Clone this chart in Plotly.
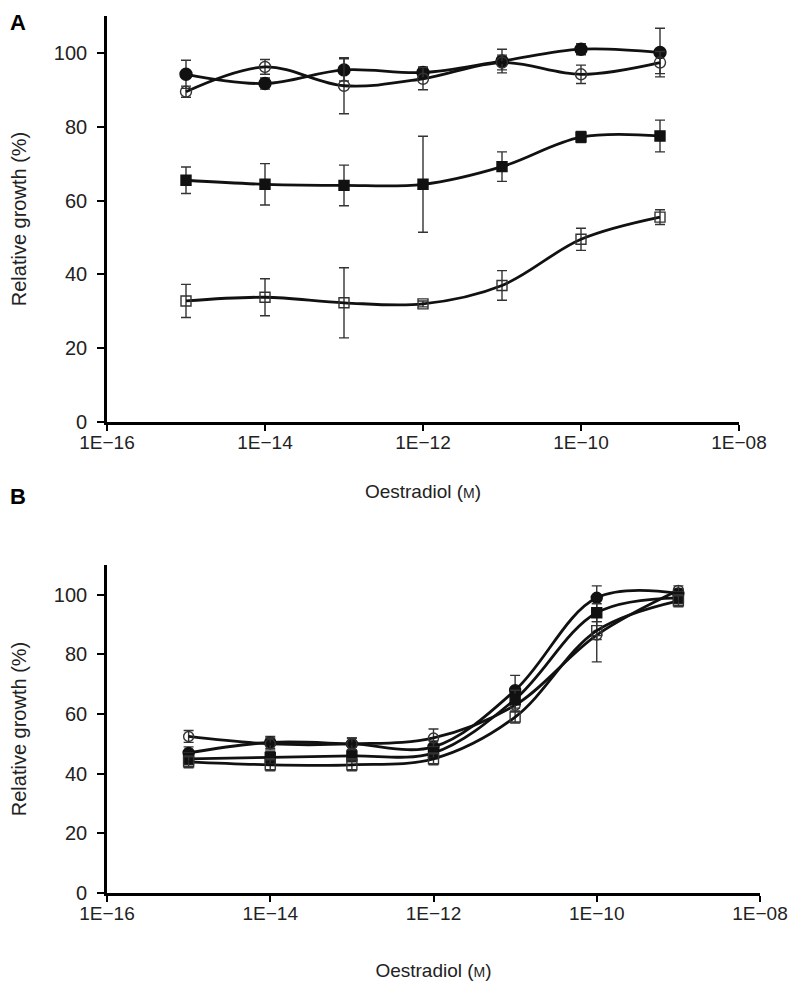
import plotly.graph_objects as go

# ---------------- data ----------------
conc = [1e-15, 1e-14, 1e-13, 1e-12, 1e-11, 1e-10, 1e-9]

# Panel A
a_filled_circle = [94.2, 91.7, 95.4, 94.7, 97.8, 101.0, 100.1]
a_filled_circle_err = [3.8, 1.5, 3.0, 1.5, 3.2, 1.5, 6.6]
a_open_circle = [89.5, 96.2, 91.1, 93.0, 97.4, 94.2, 97.4]
a_open_circle_err = [1.5, 2.0, 7.6, 3.0, 2.0, 2.5, 3.0]
a_filled_square = [65.5, 64.4, 64.1, 64.4, 69.2, 77.2, 77.5]
a_filled_square_err = [3.6, 5.6, 5.5, 13.0, 4.0, 1.5, 4.3]
a_open_square = [32.8, 33.8, 32.3, 32.0, 37.0, 49.5, 55.5]
a_open_square_err = [4.5, 5.0, 9.5, 0.8, 4.0, 3.0, 2.0]

# Panel B
b_filled_circle = [47.0, 50.5, 50.0, 49.0, 68.0, 99.0, 100.5]
b_filled_circle_err = [2.0, 2.0, 2.0, 2.0, 5.0, 4.0, 1.5]
b_open_circle = [52.5, 50.0, 50.0, 52.0, 63.0, 86.5, 101.5]
b_open_circle_err = [2.0, 2.0, 2.0, 3.0, 2.0, 9.0, 1.5]
b_filled_square = [45.0, 45.5, 46.0, 47.0, 65.0, 94.0, 99.0]
b_filled_square_err = [2.0, 2.0, 2.0, 2.0, 3.0, 3.0, 2.0]
b_open_square = [44.0, 43.0, 43.0, 45.0, 59.0, 88.0, 98.0]
b_open_square_err = [2.0, 2.0, 2.0, 2.0, 2.0, 3.0, 2.0]

x_tickvals = [1e-16, 1e-14, 1e-12, 1e-10, 1e-8]
x_ticktext = ["1E\u221216", "1E\u221214", "1E\u221212", "1E\u221210", "1E\u221208"]
y_tickvals = [0, 20, 40, 60, 80, 100]

# ---------------- figure ----------------
fig = go.Figure()

def add_series(y, err, symbol, xa, ya, msize):
    filled = "open" not in symbol
    fig.add_trace(go.Scatter(
        x=conc, y=y, xaxis=xa, yaxis=ya, mode="lines+markers",
        line=dict(color="#111111", width=2.8, shape="spline", smoothing=1.0),
        marker=dict(symbol=symbol, size=msize,
                    color="#111111" if filled else "#333333",
                    line=dict(color="#111111" if filled else "#333333", width=1.4)),
        error_y=dict(type="data", array=err, visible=True, color="#333333",
                     thickness=1.4, width=5),
        showlegend=False, hoverinfo="skip"))

for xa, ya, series in [
    ("x", "y", [(a_filled_circle, a_filled_circle_err, "circle", 12),
                (a_open_circle, a_open_circle_err, "circle-open", 11),
                (a_filled_square, a_filled_square_err, "square", 10),
                (a_open_square, a_open_square_err, "square-open", 10)]),
    ("x2", "y2", [(b_filled_circle, b_filled_circle_err, "circle", 11),
                  (b_open_circle, b_open_circle_err, "circle-open", 10),
                  (b_filled_square, b_filled_square_err, "square", 10),
                  (b_open_square, b_open_square_err, "square-open", 10)]),
]:
    for y, e, s, m in series:
        add_series(y, e, s, xa, ya, m)

font_family = "Liberation Sans, Arial, sans-serif"
xtitle = "Oestradiol (<span style='font-size:14px'>M</span>)"

common_x = dict(type="log", range=[-16, -8], tickvals=x_tickvals, ticktext=x_ticktext,
                showline=True, linecolor="black", linewidth=2.6, ticks="outside",
                ticklen=6, tickwidth=2.4, tickcolor="black", showgrid=False,
                zeroline=False, automargin=False, ticklabelstandoff=-5,
                tickfont=dict(size=19, color="#222", family=font_family))
common_y = dict(range=[0, 110], tickvals=y_tickvals, showline=True, linecolor="black",
                linewidth=2.6, ticks="outside", ticklen=7, tickwidth=2.4,
                tickcolor="black", showgrid=False, zeroline=False, automargin=False,
                ticklabelstandoff=6,
                tickfont=dict(size=20, color="#222", family=font_family))

W, H = 796, 986
fig.update_layout(
    width=W, height=H, margin=dict(l=0, r=0, t=0, b=0),
    paper_bgcolor="white", plot_bgcolor="white",
    font=dict(family=font_family, color="#222"),
    xaxis=dict(common_x, domain=[99 / W, 731 / W], anchor="y",
               title=dict(text=xtitle, font=dict(size=19), standoff=34)),
    yaxis=dict(common_y, domain=[1 - 414 / H, 1 - 8 / H], anchor="x",
               title=dict(text="Relative growth (%)", font=dict(size=20), standoff=22)),
    xaxis2=dict(common_x, domain=[99 / W, 752 / W], anchor="y2",
                title=dict(text=xtitle, font=dict(size=19), standoff=42)),
    yaxis2=dict(common_y, domain=[1 - 885 / H, 1 - 557 / H], anchor="x2",
                title=dict(text="Relative growth (%)", font=dict(size=20), standoff=22)),
    annotations=[
        dict(text="<b>A</b>", x=0 / W, y=1 - 0 / H, xref="paper", yref="paper",
             xanchor="left", yanchor="top", showarrow=False,
             font=dict(size=22, color="black", family=font_family)),
        dict(text="<b>B</b>", x=0 / W, y=1 - 474 / H, xref="paper", yref="paper",
             xanchor="left", yanchor="top", showarrow=False,
             font=dict(size=22, color="black", family=font_family)),
    ],
)

fig.write_html("out.html")
